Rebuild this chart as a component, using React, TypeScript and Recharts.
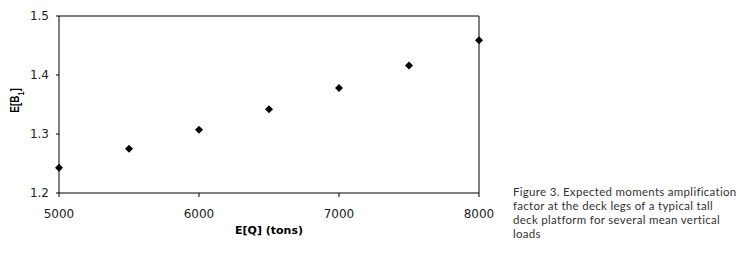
import { ReferenceLine, Scatter, ScatterChart, XAxis, YAxis } from "recharts";

const loadTons = [5000, 5500, 6000, 6500, 7000, 7500, 8000];
const amplification = [1.243, 1.275, 1.307, 1.342, 1.378, 1.416, 1.459];
const xTicks = [5000, 6000, 7000, 8000];
const yTicks = [1.2, 1.3, 1.4, 1.5];
const captionLines = [
  "Figure 3. Expected moments amplification",
  "factor at the deck legs of a typical tall",
  "deck platform for several mean vertical",
  "loads",
];

const data = loadTons.map((q, i) => ({ q, b: amplification[i] }));

const tickStyle = { fill: "#222", fontSize: 12, fontFamily: "DejaVu Sans" };

function Diamond(props: any) {
  const { cx, cy } = props;
  const r = 4;
  return <polygon fill="#000" points={`${cx},${cy - r} ${cx + r},${cy} ${cx},${cy + r} ${cx - r},${cy}`} />;
}

function YLabel(props: any) {
  const vb = props.viewBox ?? { x: 0, y: 16, width: 59, height: 177 };
  const cy = vb.y + vb.height / 2 - 4;
  const cx = 14;
  // the source picture is stretched sideways, so the rotated label gets thicker letters
  return (
    <text
      fill="#000"
      fontFamily="Liberation Sans"
      fontSize={10}
      fontWeight="bold"
      textAnchor="middle"
      transform={`translate(${cx}, ${cy}) scale(1.35, 1) rotate(-90)`}
      x={0}
      y={3.5}
    >
      E[B
      <tspan baselineShift="sub" fontSize={7}>
        1
      </tspan>
      ]
    </text>
  );
}

export default function App() {
  return (
    <div style={{ background: "#fff", height: 257, left: 0, position: "absolute", top: 0, width: 748 }}>
      <ScatterChart data={data} height={257} margin={{ bottom: 27, left: 0, right: 21, top: 16 }} width={500}>
        <XAxis
          axisLine={{ stroke: "#000" }}
          dataKey="q"
          domain={[5000, 8000]}
          height={37}
          label={{
            fill: "#000",
            fontFamily: "DejaVu Sans",
            fontSize: 11,
            fontWeight: "bold",
            position: "insideBottom",
            value: "E[Q] (tons)",
            offset: -4,
          }}
          tick={tickStyle}
          tickLine={{ stroke: "#000" }}
          tickMargin={12}
          tickSize={4}
          ticks={xTicks}
          type="number"
        />
        <YAxis
          axisLine={{ stroke: "#000" }}
          dataKey="b"
          domain={[1.2, 1.5]}
          label={<YLabel />}
          tick={tickStyle}
          tickFormatter={(v) => Number(v).toFixed(1)}
          tickLine={{ stroke: "#000" }}
          tickMargin={7}
          tickSize={3}
          ticks={yTicks}
          type="number"
          width={59}
        />
        <ReferenceLine stroke="#000" y={1.5} />
        <ReferenceLine stroke="#000" x={8000} />
        <Scatter dataKey="b" isAnimationActive={false} shape={<Diamond />} />
      </ScatterChart>
      <div
        style={{
          color: "#333",
          fontFamily: "Lato",
          fontSize: 11.5,
          left: 513,
          letterSpacing: 0.3,
          lineHeight: "14px",
          position: "absolute",
          top: 185,
          whiteSpace: "nowrap",
        }}
      >
        {captionLines.map((line) => (
          <div key={line}>{line}</div>
        ))}
      </div>
    </div>
  );
}
